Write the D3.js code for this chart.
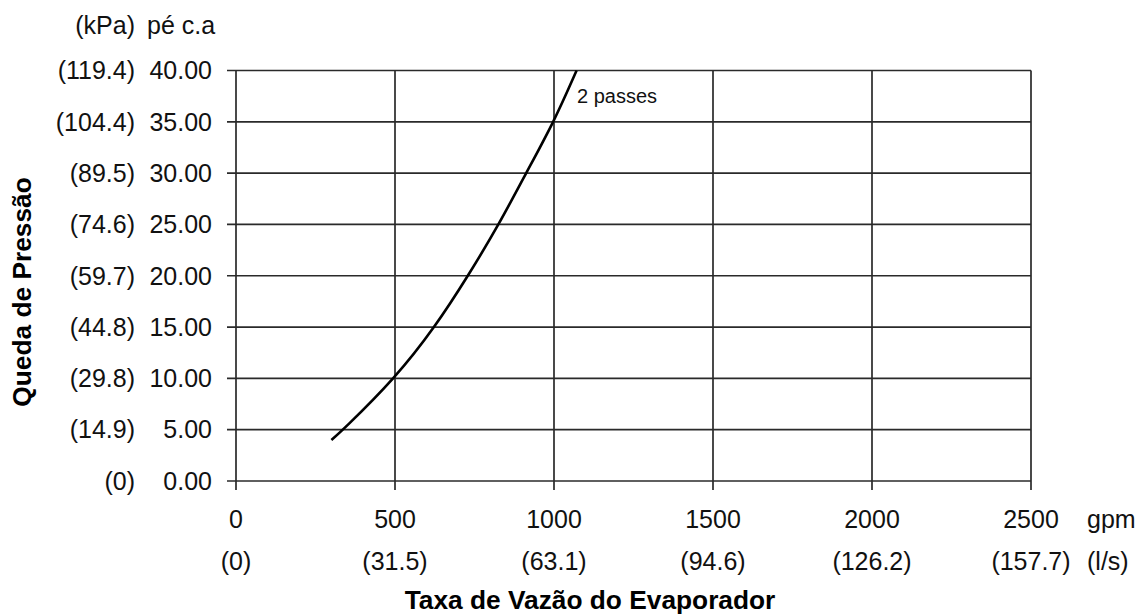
<!DOCTYPE html>
<html>
<head>
<meta charset="utf-8">
<script src="https://cdn.jsdelivr.net/npm/d3@7"></script>
<style>
  html, body { margin: 0; padding: 0; background: #fff; }
  svg { display: block; font-family: "Liberation Sans", Arial, sans-serif; }
</style>
</head>
<body>
<svg id="chart" width="1144" height="614"></svg>
<script>
// ---- data ----
const flowGpm = [300, 337, 500, 626, 730, 827, 912, 1000, 1071];
const dropFt  = [4, 5, 10, 15, 20, 25, 30, 35, 40];
const seriesLabel = "2 passes";

const xTicks = [0, 500, 1000, 1500, 2000, 2500];
const xTickLs = ["(0)", "(31.5)", "(63.1)", "(94.6)", "(126.2)", "(157.7)"];
const yTicks = [0, 5, 10, 15, 20, 25, 30, 35, 40];
const yTickKpa = ["(0)", "(14.9)", "(29.8)", "(44.8)", "(59.7)", "(74.6)", "(89.5)", "(104.4)", "(119.4)"];

const xTitle = "Taxa de Vazão do Evaporador";
const yTitle = "Queda de Pressão";
const xUnit1 = "gpm", xUnit2 = "(l/s)";
const yUnit1 = "(kPa)", yUnit2 = "pé c.a";

// ---- layout ----
const svg = d3.select("#chart");
const L = 236, R = 1031, T = 70.5, B = 481;
const x = d3.scaleLinear().domain([0, 2500]).range([L, R]);
const y = d3.scaleLinear().domain([0, 40]).range([B, T]);
const gridColor = "#2a2a2a";
const fs = 25;

// grid
const g = svg.append("g");
g.selectAll("line.h").data(yTicks).enter().append("line")
  .attr("x1", L - 9).attr("x2", R).attr("y1", d => y(d)).attr("y2", d => y(d))
  .attr("stroke", gridColor).attr("stroke-width", 1.7);
g.selectAll("line.v").data(xTicks).enter().append("line")
  .attr("x1", d => x(d)).attr("x2", d => x(d)).attr("y1", T).attr("y2", B + 9)
  .attr("stroke", gridColor).attr("stroke-width", 1.7);

// y tick labels
g.selectAll("text.yt").data(yTicks).enter().append("text")
  .attr("x", 212).attr("y", d => y(d) + 8.8).attr("text-anchor", "end")
  .attr("font-size", fs).attr("fill", "#111").text(d => d.toFixed(2));
g.selectAll("text.yk").data(yTicks).enter().append("text")
  .attr("x", 135).attr("y", d => y(d) + 8.8).attr("text-anchor", "end")
  .attr("font-size", fs).attr("fill", "#111").text((d, i) => yTickKpa[i]);

// x tick labels
g.selectAll("text.xt").data(xTicks).enter().append("text")
  .attr("x", d => x(d)).attr("y", 528).attr("text-anchor", "middle")
  .attr("font-size", fs).attr("fill", "#111").text(d => d);
g.selectAll("text.xl").data(xTicks).enter().append("text")
  .attr("x", d => x(d)).attr("y", 570).attr("text-anchor", "middle")
  .attr("font-size", fs).attr("fill", "#111").text((d, i) => xTickLs[i]);

// units
svg.append("text").attr("x", 1087).attr("y", 528).attr("font-size", fs).attr("fill", "#111").text(xUnit1);
svg.append("text").attr("x", 1087).attr("y", 570).attr("font-size", fs).attr("fill", "#111").text(xUnit2);
svg.append("text").attr("x", 135).attr("y", 34).attr("text-anchor", "end").attr("font-size", fs).attr("fill", "#111").text(yUnit1);
svg.append("text").attr("x", 147).attr("y", 34).attr("font-size", fs).attr("fill", "#111").text(yUnit2);

// titles
svg.append("text").attr("x", 590).attr("y", 609).attr("text-anchor", "middle")
  .attr("font-size", 26.3).attr("font-weight", "bold").attr("fill", "#000").text(xTitle);
svg.append("text").attr("transform", "translate(31,292) rotate(-90)").attr("text-anchor", "middle")
  .attr("font-size", 26.3).attr("font-weight", "bold").attr("fill", "#000").text(yTitle);

// curve
const pts = flowGpm.map((v, i) => [v, dropFt[i]]);
const line = d3.line().x(d => x(d[0])).y(d => y(d[1])).curve(d3.curveBasis);
svg.append("path").datum(pts).attr("d", line).attr("fill", "none")
  .attr("stroke", "#000").attr("stroke-width", 2.6);

svg.append("text").attr("x", 577).attr("y", 103).attr("font-size", 20).attr("fill", "#111").text(seriesLabel);
</script>
</body>
</html>
